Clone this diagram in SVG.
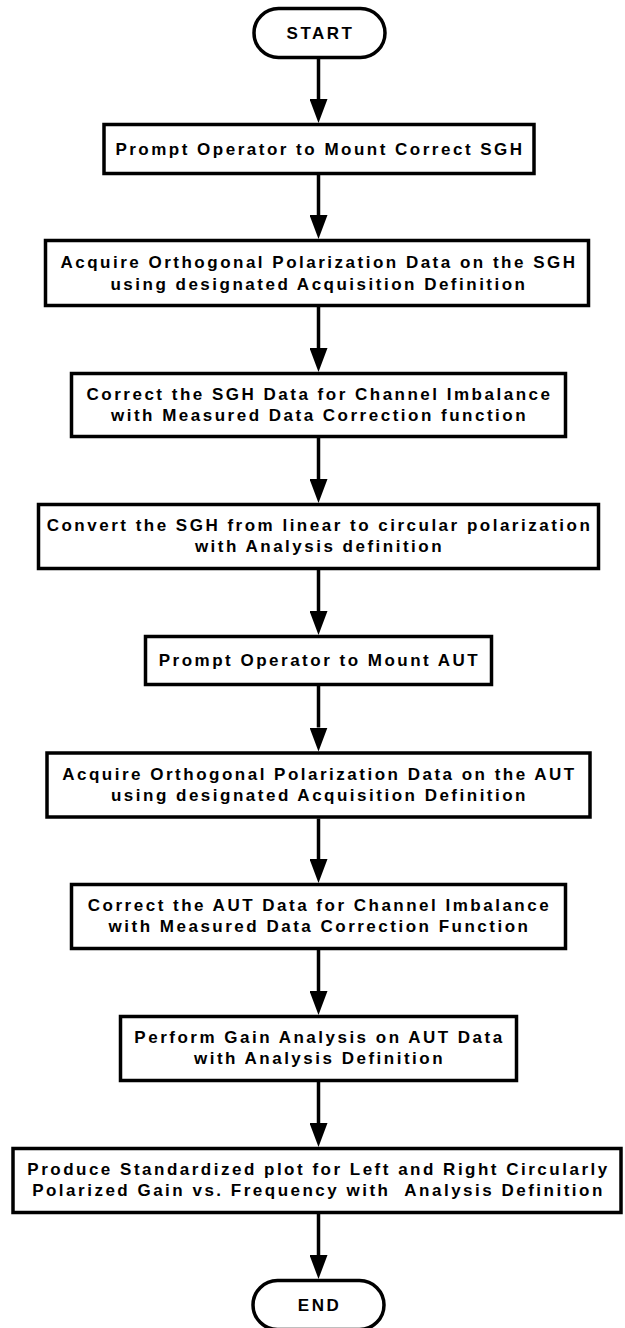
<svg xmlns="http://www.w3.org/2000/svg" width="625" height="1328" viewBox="0 0 625 1328">
<style>
.box{fill:#fff;stroke:#000;stroke-width:3.5}
.t{font-family:"Liberation Sans",Arial,sans-serif;font-weight:bold;font-size:17px;letter-spacing:2.5px;text-anchor:middle;fill:#000}
.c{stroke:#000;stroke-width:3.5;fill:none}
</style>
<defs>
<marker id="ah" viewBox="0 0 24 18" refX="0" refY="9" markerWidth="24" markerHeight="18" markerUnits="userSpaceOnUse" orient="auto">
<polygon points="0,0 24,9 0,18" fill="#000"/>
</marker>
</defs>
<rect width="625" height="1328" fill="#fff"/>
<g id="connectors">
<line class="c" x1="318.5" y1="59" x2="318.5" y2="99" marker-end="url(#ah)"/>
<line class="c" x1="318.5" y1="175" x2="318.5" y2="215" marker-end="url(#ah)"/>
<line class="c" x1="318.5" y1="307" x2="318.5" y2="348" marker-end="url(#ah)"/>
<line class="c" x1="318.5" y1="438" x2="318.5" y2="479" marker-end="url(#ah)"/>
<line class="c" x1="318.5" y1="570" x2="318.5" y2="611" marker-end="url(#ah)"/>
<line class="c" x1="318.5" y1="686" x2="318.5" y2="727.5" marker-end="url(#ah)"/>
<line class="c" x1="318.5" y1="818.5" x2="318.5" y2="859" marker-end="url(#ah)"/>
<line class="c" x1="318.5" y1="950" x2="318.5" y2="991" marker-end="url(#ah)"/>
<line class="c" x1="318.5" y1="1082" x2="318.5" y2="1123" marker-end="url(#ah)"/>
<line class="c" x1="318.5" y1="1214" x2="318.5" y2="1255" marker-end="url(#ah)"/>
</g>
<g id="start">
<rect class="box" x="254" y="8.5" width="131" height="49" rx="24.5"/>
<text class="t" x="320.5" y="39">START</text>
</g>
<g id="n1">
<rect class="box" x="104" y="124.5" width="430" height="49"/>
<text class="t" x="320" y="155">Prompt Operator to Mount Correct SGH</text>
</g>
<g id="n2">
<rect class="box" x="45.5" y="240.5" width="543" height="65"/>
<text class="t" x="319" y="268"><tspan x="319">Acquire Orthogonal Polarization Data on the SGH</tspan><tspan x="319" y="289.5">using designated Acquisition Definition</tspan></text>
</g>
<g id="n3">
<rect class="box" x="71.5" y="373.5" width="494" height="63"/>
<text class="t" x="319.5" y="399.5"><tspan x="319.5">Correct the SGH Data for Channel Imbalance</tspan><tspan x="319.5" y="420.5">with Measured Data Correction function</tspan></text>
</g>
<g id="n4">
<rect class="box" x="38.5" y="504.5" width="560" height="64"/>
<text class="t" x="319.5" y="531"><tspan x="319.5">Convert the SGH from linear to circular polarization</tspan><tspan x="319.5" y="552">with Analysis definition</tspan></text>
</g>
<g id="n5">
<rect class="box" x="145.5" y="636.5" width="346" height="48"/>
<text class="t" x="319.5" y="666">Prompt Operator to Mount AUT</text>
</g>
<g id="n6">
<rect class="box" x="47" y="753" width="543" height="64"/>
<text class="t" x="319.5" y="779.5"><tspan x="319.5">Acquire Orthogonal Polarization Data on the AUT</tspan><tspan x="319.5" y="800.5">using designated Acquisition Definition</tspan></text>
</g>
<g id="n7">
<rect class="box" x="71.5" y="884.5" width="494" height="64"/>
<text class="t" x="319.5" y="911"><tspan x="319.5">Correct the AUT Data for Channel Imbalance</tspan><tspan x="319.5" y="932">with Measured Data Correction Function</tspan></text>
</g>
<g id="n8">
<rect class="box" x="120.5" y="1016.5" width="396" height="64"/>
<text class="t" x="319.5" y="1043"><tspan x="319.5">Perform Gain Analysis on AUT Data</tspan><tspan x="319.5" y="1064">with Analysis Definition</tspan></text>
</g>
<g id="n9">
<rect class="box" x="13" y="1148.5" width="608" height="64"/>
<text class="t" x="318.5" y="1175" xml:space="preserve"><tspan x="318.5">Produce Standardized plot for Left and Right Circularly</tspan><tspan x="318.5" y="1196">Polarized Gain vs. Frequency with  Analysis Definition</tspan></text>
</g>
<g id="end">
<rect class="box" x="253" y="1280.5" width="131" height="49" rx="24.5"/>
<text class="t" x="319.5" y="1311">END</text>
</g>
</svg>
